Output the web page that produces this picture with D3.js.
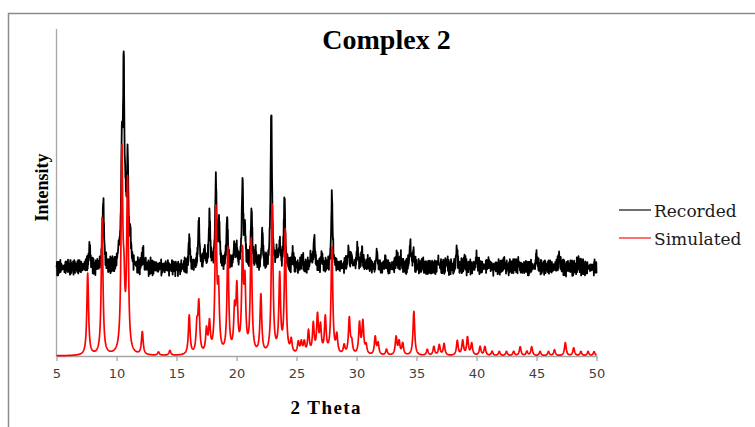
<!DOCTYPE html>
<html>
<head>
<meta charset="utf-8">
<title>Complex 2</title>
<script src="https://cdn.jsdelivr.net/npm/d3@7"></script>
<style>
    html, body { margin: 0; padding: 0; background: #ffffff; }
    #chart { width: 755px; height: 427px; }
    .tick text { font-family: "DejaVu Sans", Verdana, sans-serif; font-size: 13px; }
</style>
</head>
<body>
<div id="chart"></div>
<script>
// --- data ---
// x ticks (2 Theta)
const xTicks = [5, 10, 15, 20, 25, 30, 35, 40, 45, 50];

// simulated pattern: peak position (2 Theta) and peak height (intensity units)
const simPos = [7.6, 8.8, 10.45, 10.62, 10.92, 12.15, 13.5, 14.45, 16.06, 16.7, 16.86, 17.5, 17.75,
    18.28, 18.5, 19.28, 19.84, 20.03, 20.5, 20.7, 21.22, 22.03, 22.97, 23.6, 24.06, 24.56,
    25.15, 25.4, 25.65, 26.0, 26.4, 26.75, 27.0, 27.4, 27.95, 28.36, 28.97, 29.4, 29.6,
    30.25, 30.53, 30.8, 31.56, 31.8, 32.5, 33.3, 33.55, 33.85, 34.78, 35.9, 36.45, 36.9,
    37.3, 38.4, 38.85, 39.25, 39.6, 40.3, 40.7, 41.3, 41.9, 42.5, 43.1, 43.64, 44.2, 44.6,
    45.3, 46.0, 46.5, 47.4, 48.1, 48.7, 49.3, 49.8];
const simHeight = [25, 42, 60, 16, 52, 7, 1, 1.5, 12, 8, 15, 7, 9,
    43, 18, 32, 12, 19, 29, 20, 34.5, 18, 46, 23.5, 37.5, 4,
    3.5, 3.5, 3.5, 7, 9, 11.5, 8, 11, 33, 5.5, 2.7, 11, 3.5,
    9.5, 10, 2.7, 5.5, 3.5, 1.8, 5.5, 4, 3.6, 13.5, 1.8, 2.7, 3.2,
    3.6, 4.5, 4.5, 5.5, 3.6, 2.7, 2.7, 1.3, 1.3, 1.3, 1.3, 2.7, 1.3, 2.7,
    1.3, 1.3, 1.8, 4, 2.4, 1.3, 1.3, 1.3];

// recorded pattern: peak position and height above its baseline
const recPos = [7.75, 8.9, 10.18, 10.45, 10.6, 10.75, 10.93, 11.15, 12.2, 16.06, 16.86, 17.35,
    17.75, 18.28, 18.55, 19.22, 19.8, 20.0, 20.5, 20.7, 21.25, 21.6, 22.15, 22.9, 23.35,
    23.6, 24.0, 24.7, 25.5, 26.2, 26.48, 27.1, 27.95, 29.34, 29.6, 30.08, 30.45, 31.0,
    31.7, 32.4, 33.37, 33.7, 34.48, 34.75, 35.5, 36.8, 37.5, 38.36, 39.0, 40.0, 41.0,
    42.3, 43.5, 45.0, 46.9, 48.5];
const recHeight = [6.5, 20.5, 3.5, 33, 57, 12, 31, 8, 5.5, 9, 14, 5,
    16, 26.5, 13, 15, 5, 6, 26, 10, 17.5, 4, 10.5, 48, 3,
    6.5, 21, 4, 3, 3, 9, 4, 22, 5.5, 3, 6, 5, 2,
    4.5, 2, 4, 2.5, 7, 4, 1.5, 2, 2, 6, 2, 3, 2,
    1.5, 1.5, 3.5, 3.5, 2];
const recOffset = 27;   // recorded trace is lifted above the simulated one
const noiseScale = 1.7; // noise strips are typed in units of 1/1.7 intensity

// detector noise on the recorded trace (hand typed, two strips of different length)
const noiseA = [0.6, -0.4, 0.9, -0.8, 0.2, -0.1, 0.7, -0.9, 0.4, 0.1, -0.6, 0.8, -0.3, 0.5, -1.0, 0.3,
    0.9, -0.5, 0.0, -0.7, 0.6, -0.2, 1.0, -0.6, 0.3, -0.9, 0.5, 0.2, -0.4, 0.8, -0.8, 0.1,
    0.6, -0.3, -0.7, 0.4, -0.1];
const noiseB = [-0.3, 0.5, 0.1, -0.6, 0.7, -0.2, 0.3, -0.5, 0.6, 0.0, -0.4, 0.2, 0.6, -0.7, 0.4, -0.1,
    0.5, -0.3, -0.6, 0.3, 0.1, 0.7, -0.5, 0.2, -0.2, 0.6, -0.4, 0.0, 0.4, -0.7, 0.5, 0.3,
    -0.2, -0.5, 0.6, 0.1, -0.3, 0.4, -0.6, 0.2, 0.7, -0.1, -0.4, 0.3, 0.5, -0.6, 0.1, -0.2,
    0.6, -0.5, 0.2, 0.4, -0.3];

const seriesNames = ["Recorded", "Simulated"];
const seriesColors = ["#000000", "#ff0000"];
const legendColors = ["#404040", "#ff4040"];

// --- build profiles from the peak lists ---
const step = 0.02;
function profile(pos, height, hwhm) {
    const pts = [];
    for (let i = 0; i <= Math.round(45 / step); i++) {
        const x = 5 + i * step;
        let y = 0;
        for (let k = 0; k < pos.length; k++) {
            const d = (x - pos[k]) / hwhm;
            y += height[k] / (1 + d * d);
        }
        pts.push({ x: x, y: y, i: i });
    }
    return pts;
}

const simData = profile(simPos, simHeight, 0.085);
const recData = profile(recPos, recHeight, 0.07).map(function (d) {
    const n = noiseA[d.i % noiseA.length] + noiseB[d.i % noiseB.length];
    return { x: d.x, y: d.y + recOffset + n * noiseScale };
});

document.addEventListener('DOMContentLoaded', function () {

    const width = 755, height = 427;
    const svg = d3.select("#chart").append("svg")
        .attr("width", width)
        .attr("height", height)
        .attr("viewBox", `0 0 ${width} ${height}`)
        .style("background-color", "#ffffff");

    // --- outer chart frame (only top and left edges are in view) ---
    svg.append("path")
        .attr("d", "M8.5,427V13.5H755")
        .attr("fill", "none")
        .attr("stroke", "#8c8c8c")
        .attr("stroke-width", 1.5);

    // --- scales ---
    const x = d3.scaleLinear().domain([5, 50]).range([56.5, 596.5]);
    const y = d3.scaleLinear().domain([0, 100]).range([356, 29]);

    // --- axes ---
    const xAxis = svg.append("g")
        .attr("transform", `translate(0,${y(0)})`)
        .call(d3.axisBottom(x).tickValues(xTicks).tickSize(5).tickSizeOuter(0).tickPadding(8));
    xAxis.attr("font-family", null).attr("font-size", null);
    xAxis.select(".domain").attr("stroke", "#a6a6a6").attr("stroke-width", 1.3);
    xAxis.selectAll(".tick line").attr("stroke", "#a6a6a6").attr("stroke-width", 1.3);
    xAxis.selectAll(".tick text").attr("fill", "#404040");

    svg.append("line")
        .attr("x1", x(5)).attr("x2", x(5))
        .attr("y1", y(0)).attr("y2", 29)
        .attr("stroke", "#a6a6a6")
        .attr("stroke-width", 1.3);

    // --- lines ---
    const line = d3.line().x(d => x(d.x)).y(d => y(d.y));

    svg.append("path")
        .datum(recData)
        .attr("d", line)
        .attr("fill", "none")
        .attr("stroke", seriesColors[0])
        .attr("stroke-width", 1.8)
        .attr("stroke-linejoin", "round");

    svg.append("path")
        .datum(simData)
        .attr("d", line)
        .attr("fill", "none")
        .attr("stroke", seriesColors[1])
        .attr("stroke-width", 1.7)
        .attr("stroke-linejoin", "round");

    // --- titles ---
    svg.append("text")
        .attr("x", 386.5).attr("y", 49)
        .attr("text-anchor", "middle")
        .style("font-family", "'Liberation Serif', 'Times New Roman', serif")
        .style("font-weight", "bold")
        .style("font-size", "28px")
        .text("Complex 2");

    svg.append("text")
        .attr("x", 325.5).attr("y", 414)
        .attr("text-anchor", "middle")
        .style("font-family", "'Liberation Serif', 'Times New Roman', serif")
        .style("font-weight", "bold")
        .style("font-size", "19px")
        .attr("textLength", 70)
        .text("2 Theta");

    svg.append("text")
        .attr("transform", "translate(48,187.5) rotate(-90)")
        .attr("text-anchor", "middle")
        .style("font-family", "'Liberation Serif', 'Times New Roman', serif")
        .style("font-weight", "bold")
        .style("font-size", "18px")
        .text("Intensity");

    // --- legend ---
    const legend = svg.append("g");
    seriesNames.forEach(function (name, i) {
        const ly = 210 + i * 28;
        legend.append("line")
            .attr("x1", 619).attr("x2", 651)
            .attr("y1", ly).attr("y2", ly)
            .attr("stroke", legendColors[i])
            .attr("stroke-width", 1.5);
        legend.append("text")
            .attr("x", 654).attr("y", ly + 6.5)
            .style("font-family", "'DejaVu Serif', serif")
            .style("font-size", "17px")
            .attr("fill", "#1a1a1a")
            .text(name);
    });
});
</script>
</body>
</html>
